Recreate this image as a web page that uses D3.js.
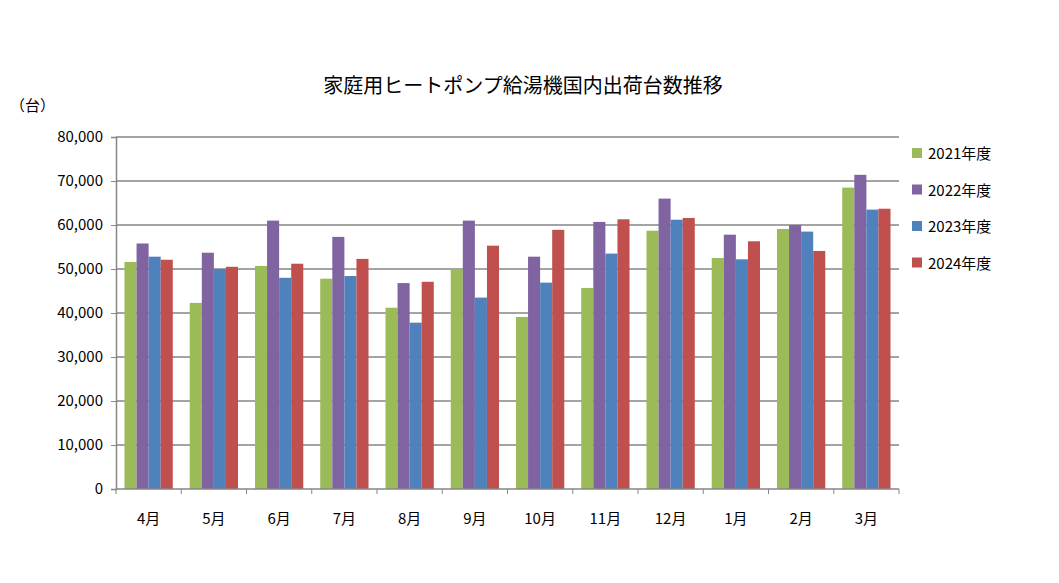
<!DOCTYPE html>
<html><head><meta charset="utf-8">
<script src="https://cdn.jsdelivr.net/npm/d3@7"></script>
<style>body{margin:0;background:#fff}text{font-family:"Noto Sans CJK JP","Noto Sans",sans-serif;fill:#000}</style>
</head><body><svg id="c" width="1059" height="583"></svg>
<script>
const months = ["4月","5月","6月","7月","8月","9月","10月","11月","12月","1月","2月","3月"];
const seriesNames = ["2021年度","2022年度","2023年度","2024年度"];
const colors = ["#9BBB59","#8064A2","#4F81BD","#C0504D"];
const v2021 = [51600,42300,50700,47800,41200,50000,39100,45700,58700,52500,59100,68500];
const v2022 = [55800,53700,61000,57300,46800,61000,52800,60700,66000,57800,60000,71400];
const v2023 = [52800,50000,48000,48400,37800,43500,46900,53500,61200,52200,58500,63500];
const v2024 = [52100,50500,51200,52300,47100,55300,58900,61300,61600,56300,54100,63700];
const yTicks = [0,10000,20000,30000,40000,50000,60000,70000,80000];
const series = [v2021,v2022,v2023,v2024];

const svg = d3.select("#c");
const L=116,R=899,T=137,B=489;
const x = d3.scaleBand().domain(months).range([L,R]).paddingInner(0.26).paddingOuter(0.13);
const x1 = d3.scaleBand().domain(seriesNames).range([0,x.bandwidth()]);
const y = d3.scaleLinear().domain([0,80000]).range([B,T]);

svg.append("g").selectAll("line").data(yTicks.slice(1)).join("line")
  .attr("x1",L).attr("x2",R).attr("y1",d=>y(d)).attr("y2",d=>y(d))
  .attr("stroke","#868686").attr("stroke-width",1.5);

series.forEach((s,i)=>{
  svg.append("g").selectAll("rect").data(s).join("rect")
    .attr("x",(d,j)=>x(months[j])+x1(seriesNames[i]))
    .attr("width",x1.bandwidth()).attr("y",d=>y(d)).attr("height",d=>B-y(d))
    .attr("fill",colors[i]);
});

const ya = svg.append("g").attr("transform",`translate(${L},0)`)
  .call(d3.axisLeft(y).tickValues(yTicks).tickFormat(d3.format(",")).tickSize(5).tickPadding(8));
ya.select(".domain").attr("stroke","#868686").attr("stroke-width",1.5);
ya.selectAll("line").attr("stroke","#868686");
ya.selectAll("text").attr("font-size",15);

const xa = svg.append("g").attr("transform",`translate(0,${B})`);
xa.append("line").attr("x1",L).attr("x2",R).attr("stroke","#868686").attr("stroke-width",1.5);
const step = (R-L)/months.length;
xa.selectAll("line.t").data(d3.range(months.length+1)).join("line").attr("class","t")
  .attr("x1",i=>L+i*step).attr("x2",i=>L+i*step).attr("y1",0).attr("y2",5).attr("stroke","#868686");
xa.selectAll("text").data(months).join("text")
  .attr("x",d=>x(d)+x.bandwidth()/2).attr("y",35).attr("text-anchor","middle").attr("font-size",15).text(d=>d);

svg.append("text").attr("x",523).attr("y",93).attr("text-anchor","middle").attr("font-size",20).text("家庭用ヒートポンプ給湯機国内出荷台数推移");
svg.append("text").attr("x",10).attr("y",111).attr("font-size",15).text("（台）");

const lg = svg.append("g").selectAll("g").data(seriesNames).join("g")
  .attr("transform",(d,i)=>`translate(912,${153+i*36.5})`);
lg.append("rect").attr("x",0).attr("y",-5).attr("width",10).attr("height",10).attr("fill",(d,i)=>colors[i]);
lg.append("text").attr("x",16).attr("y",6).attr("font-size",15).text(d=>d);
</script></body></html>
